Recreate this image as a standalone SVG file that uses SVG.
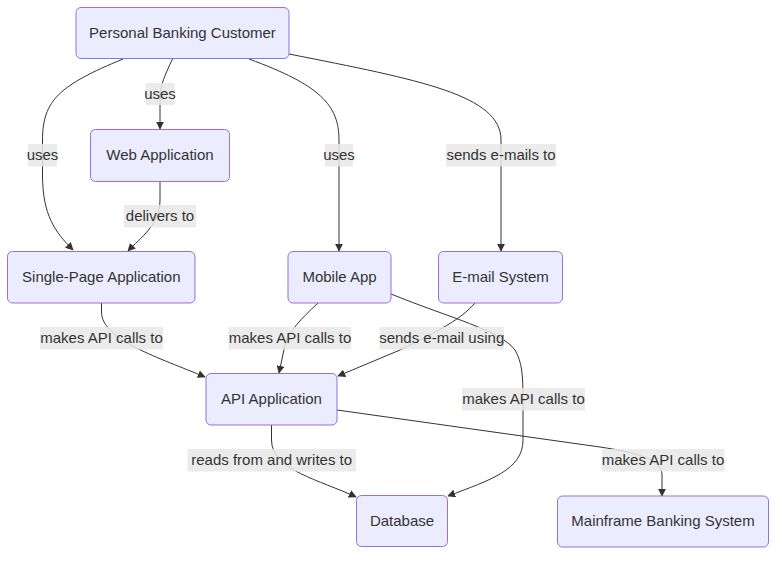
<svg xmlns="http://www.w3.org/2000/svg" width="784" height="561" viewBox="0 0 784 561">
<defs>
<style>
.node rect{fill:#ECECFF;stroke:#9370DB;stroke-width:1}
.node text,.lbl text{font-family:"Liberation Sans",Arial,sans-serif;font-size:15px;fill:#333;text-anchor:middle;dominant-baseline:central}
.edge{fill:none;stroke:#333;stroke-width:1;marker-end:url(#arr)}
.lbl rect{fill:#e8e8e8;opacity:0.85}
</style>
<marker id="arr" viewBox="0 0 10 10" refX="9" refY="5" markerWidth="8" markerHeight="8" markerUnits="userSpaceOnUse" orient="auto">
<path d="M0,0 L10,5 L0,10 z" fill="#333"/>
</marker>
</defs>
<rect width="784" height="561" fill="#fff"/>
<g id="edges">
<path class="edge" d="M123,59 C60,85 42.5,100 42.5,140 L42.5,175 C42.5,215 55,232 73,250"/>
<path class="edge" d="M172.5,59 C165,75 160,85 160,100 L160,129"/>
<path class="edge" d="M249,59 C320,85 339,105 339,140 L339,251"/>
<path class="edge" d="M289,54 C420,80 501,95 501,140 L501,251"/>
<path class="edge" d="M160,181 L160,200 C160,225 140,238 128,251"/>
<path class="edge" d="M101.5,303 L101.5,312 C101.5,340 160,358 205,377"/>
<path class="edge" d="M318,303 C300,320 290,330 285,345 L279,373"/>
<path class="edge" d="M475,303 C460,320 440,330 400,350 L338,376"/>
<path class="edge" d="M391,294 C450,318 500,330 515,350 C522,362 523,375 523,399 L523,440 C523,470 490,480 448,496"/>
<path class="edge" d="M271.5,425 L271.5,440 C271.5,470 320,480 356,497"/>
<path class="edge" d="M337,410 L600,447 C640,453 662,460 662,475 L662,496"/>
</g>
<g id="labels">
<g class="lbl"><rect x="145.5" y="83" width="29" height="22"/><text x="160" y="93">uses</text></g>
<g class="lbl"><rect x="28" y="144" width="29" height="22.5"/><text x="42.5" y="154">uses</text></g>
<g class="lbl"><rect x="325" y="144" width="28" height="22.5"/><text x="339" y="154">uses</text></g>
<g class="lbl"><rect x="446" y="144" width="110" height="22.5"/><text x="501" y="154">sends e-mails to</text></g>
<g class="lbl"><rect x="124" y="205" width="72" height="22.5"/><text x="160" y="215">delivers to</text></g>
<g class="lbl"><rect x="40" y="327" width="123" height="22.5"/><text x="101.5" y="337">makes API calls to</text></g>
<g class="lbl"><rect x="228.5" y="327" width="122.5" height="22.5"/><text x="290" y="337">makes API calls to</text></g>
<g class="lbl"><rect x="379.5" y="327" width="124.5" height="22.5"/><text x="441.7" y="337">sends e-mail using</text></g>
<g class="lbl"><rect x="462" y="388" width="123" height="22.5"/><text x="523.5" y="398">makes API calls to</text></g>
<g class="lbl"><rect x="187.5" y="449" width="168.5" height="22.5"/><text x="271.7" y="459">reads from and writes to</text></g>
<g class="lbl"><rect x="602" y="449" width="122.5" height="22.5"/><text x="663" y="459">makes API calls to</text></g>
</g>
<g id="customer" class="node"><rect x="76" y="7.5" width="213" height="51" rx="5"/><text x="182.5" y="32">Personal Banking Customer</text></g>
<g id="webapp" class="node"><rect x="90.5" y="129.5" width="139" height="52" rx="5"/><text x="160" y="154.5">Web Application</text></g>
<g id="spa" class="node"><rect x="7.5" y="251.5" width="187.5" height="51.5" rx="5"/><text x="101.3" y="276">Single-Page Application</text></g>
<g id="mobile" class="node"><rect x="288" y="251.5" width="103" height="51.5" rx="5"/><text x="339.5" y="276">Mobile App</text></g>
<g id="email" class="node"><rect x="438.5" y="251.5" width="124" height="51.5" rx="5"/><text x="500.5" y="276">E-mail System</text></g>
<g id="api" class="node"><rect x="206" y="373.5" width="131" height="51.5" rx="5"/><text x="271.5" y="398">API Application</text></g>
<g id="database" class="node"><rect x="356.5" y="495.5" width="91" height="51" rx="5"/><text x="402" y="520">Database</text></g>
<g id="mainframe" class="node"><rect x="557.5" y="496" width="211" height="51" rx="5"/><text x="663" y="520.5">Mainframe Banking System</text></g>
</svg>
